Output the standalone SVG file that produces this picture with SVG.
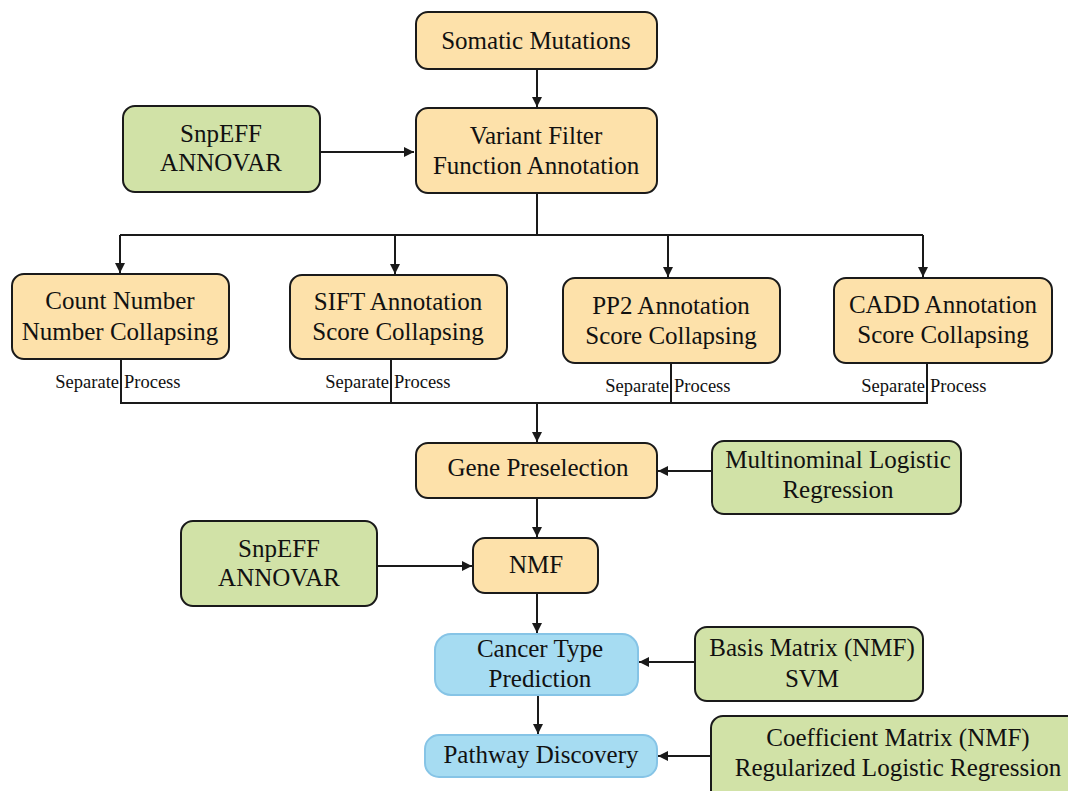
<svg xmlns="http://www.w3.org/2000/svg" width="1068" height="791" viewBox="0 0 1068 791">
<style>
.o{fill:#FDE1AA;stroke:#1a1a1a;stroke-width:2}
.g{fill:#D1E2A7;stroke:#1a1a1a;stroke-width:2}
.b{fill:#A6DCF2;stroke:#86C4E6;stroke-width:2}
text{font-family:"Liberation Serif","Times New Roman",serif;fill:#111}
.t{font-size:25px;text-anchor:middle}
.s{font-size:18.5px}
.c{fill:none;stroke:#1a1a1a;stroke-width:2}
</style>
<defs>
<marker id="ah" viewBox="0 0 10 10" refX="10" refY="5" markerWidth="5" markerHeight="5" orient="auto" markerUnits="strokeWidth">
<path d="M0,0 L10,5 L0,10 z" fill="#1a1a1a"/>
</marker>
</defs>
<rect width="1068" height="791" fill="#fff"/>
<g id="connectors">
<line class="c" x1="537" y1="69" x2="537" y2="107" marker-end="url(#ah)"/>
<line class="c" x1="320" y1="152" x2="414" y2="152" marker-end="url(#ah)"/>
<polyline class="c" points="537,193 537,235"/>
<polyline class="c" points="120,235 923,235"/>
<line class="c" x1="120" y1="235" x2="120" y2="273" marker-end="url(#ah)"/>
<line class="c" x1="395" y1="235" x2="395" y2="274" marker-end="url(#ah)"/>
<line class="c" x1="668" y1="235" x2="668" y2="277" marker-end="url(#ah)"/>
<line class="c" x1="923" y1="235" x2="923" y2="277" marker-end="url(#ah)"/>
<line class="c" x1="121" y1="359" x2="121" y2="403"/>
<line class="c" x1="391" y1="359" x2="391" y2="403"/>
<line class="c" x1="671" y1="363" x2="671" y2="403"/>
<line class="c" x1="927" y1="363" x2="927" y2="403"/>
<polyline class="c" points="120,403 928,403"/>
<line class="c" x1="537" y1="403" x2="537" y2="442" marker-end="url(#ah)"/>
<line class="c" x1="712" y1="471" x2="658" y2="471" marker-end="url(#ah)"/>
<line class="c" x1="537" y1="498" x2="537" y2="537" marker-end="url(#ah)"/>
<line class="c" x1="377" y1="566" x2="472" y2="566" marker-end="url(#ah)"/>
<line class="c" x1="537" y1="593" x2="537" y2="633" marker-end="url(#ah)"/>
<line class="c" x1="695" y1="662" x2="639" y2="662" marker-end="url(#ah)"/>
<line class="c" x1="538" y1="695" x2="538" y2="734" marker-end="url(#ah)"/>
<line class="c" x1="711" y1="756" x2="658" y2="756" marker-end="url(#ah)"/>
<text class="s" x="119" y="388" text-anchor="end">Separate</text>
<text class="s" x="124" y="388">Process</text>
<text class="s" x="389" y="388" text-anchor="end">Separate</text>
<text class="s" x="394" y="388">Process</text>
<text class="s" x="669" y="392" text-anchor="end">Separate</text>
<text class="s" x="674" y="392">Process</text>
<text class="s" x="925" y="392" text-anchor="end">Separate</text>
<text class="s" x="930" y="392">Process</text>
</g>
<g id="somatic"><rect class="o" x="416" y="12" width="241" height="57" rx="12"/><text class="t" x="536" y="49">Somatic Mutations</text></g>
<g id="variant"><rect class="o" x="416" y="108" width="241" height="85" rx="12"/><text class="t" x="536" y="144">Variant Filter</text><text class="t" x="536" y="174">Function Annotation</text></g>
<g id="snpeff1"><rect class="g" x="123" y="106" width="197" height="86" rx="12"/><text class="t" x="221" y="142">SnpEFF</text><text class="t" x="221" y="171">ANNOVAR</text></g>
<g id="count"><rect class="o" x="12" y="274" width="217" height="85" rx="12"/><text class="t" x="120" y="309">Count Number</text><text class="t" x="120" y="340">Number Collapsing</text></g>
<g id="sift"><rect class="o" x="290" y="275" width="217" height="84" rx="12"/><text class="t" x="398" y="310">SIFT Annotation</text><text class="t" x="398" y="340">Score Collapsing</text></g>
<g id="pp2"><rect class="o" x="563" y="278" width="217" height="85" rx="12"/><text class="t" x="671" y="314">PP2 Annotation</text><text class="t" x="671" y="344">Score Collapsing</text></g>
<g id="cadd"><rect class="o" x="834" y="278" width="218" height="85" rx="12"/><text class="t" x="943" y="313">CADD Annotation</text><text class="t" x="943" y="343">Score Collapsing</text></g>
<g id="gene"><rect class="o" x="416" y="443" width="241" height="55" rx="12"/><text class="t" x="538" y="476">Gene Preselection</text></g>
<g id="multi"><rect class="g" x="712" y="441" width="249" height="73" rx="12"/><text class="t" x="838" y="468">Multinominal Logistic</text><text class="t" x="838" y="498">Regression</text></g>
<g id="nmf"><rect class="o" x="473" y="538" width="125" height="55" rx="12"/><text class="t" x="536" y="573">NMF</text></g>
<g id="snpeff2"><rect class="g" x="181" y="521" width="196" height="85" rx="12"/><text class="t" x="279" y="557">SnpEFF</text><text class="t" x="279" y="586">ANNOVAR</text></g>
<g id="cancer"><rect class="b" x="435" y="634" width="203" height="61" rx="16"/><text class="t" x="540" y="657">Cancer Type</text><text class="t" x="540" y="687">Prediction</text></g>
<g id="basis"><rect class="g" x="695" y="627" width="228" height="74" rx="12"/><text class="t" x="812" y="656">Basis Matrix (NMF)</text><text class="t" x="812" y="687">SVM</text></g>
<g id="pathway"><rect class="b" x="425" y="735" width="232" height="42" rx="14"/><text class="t" x="541" y="763">Pathway Discovery</text></g>
<g id="coef"><rect class="g" x="711" y="716" width="370" height="90" rx="12"/><text class="t" x="898" y="746">Coefficient Matrix (NMF)</text><text class="t" x="898" y="776">Regularized Logistic Regression</text></g>
</svg>
